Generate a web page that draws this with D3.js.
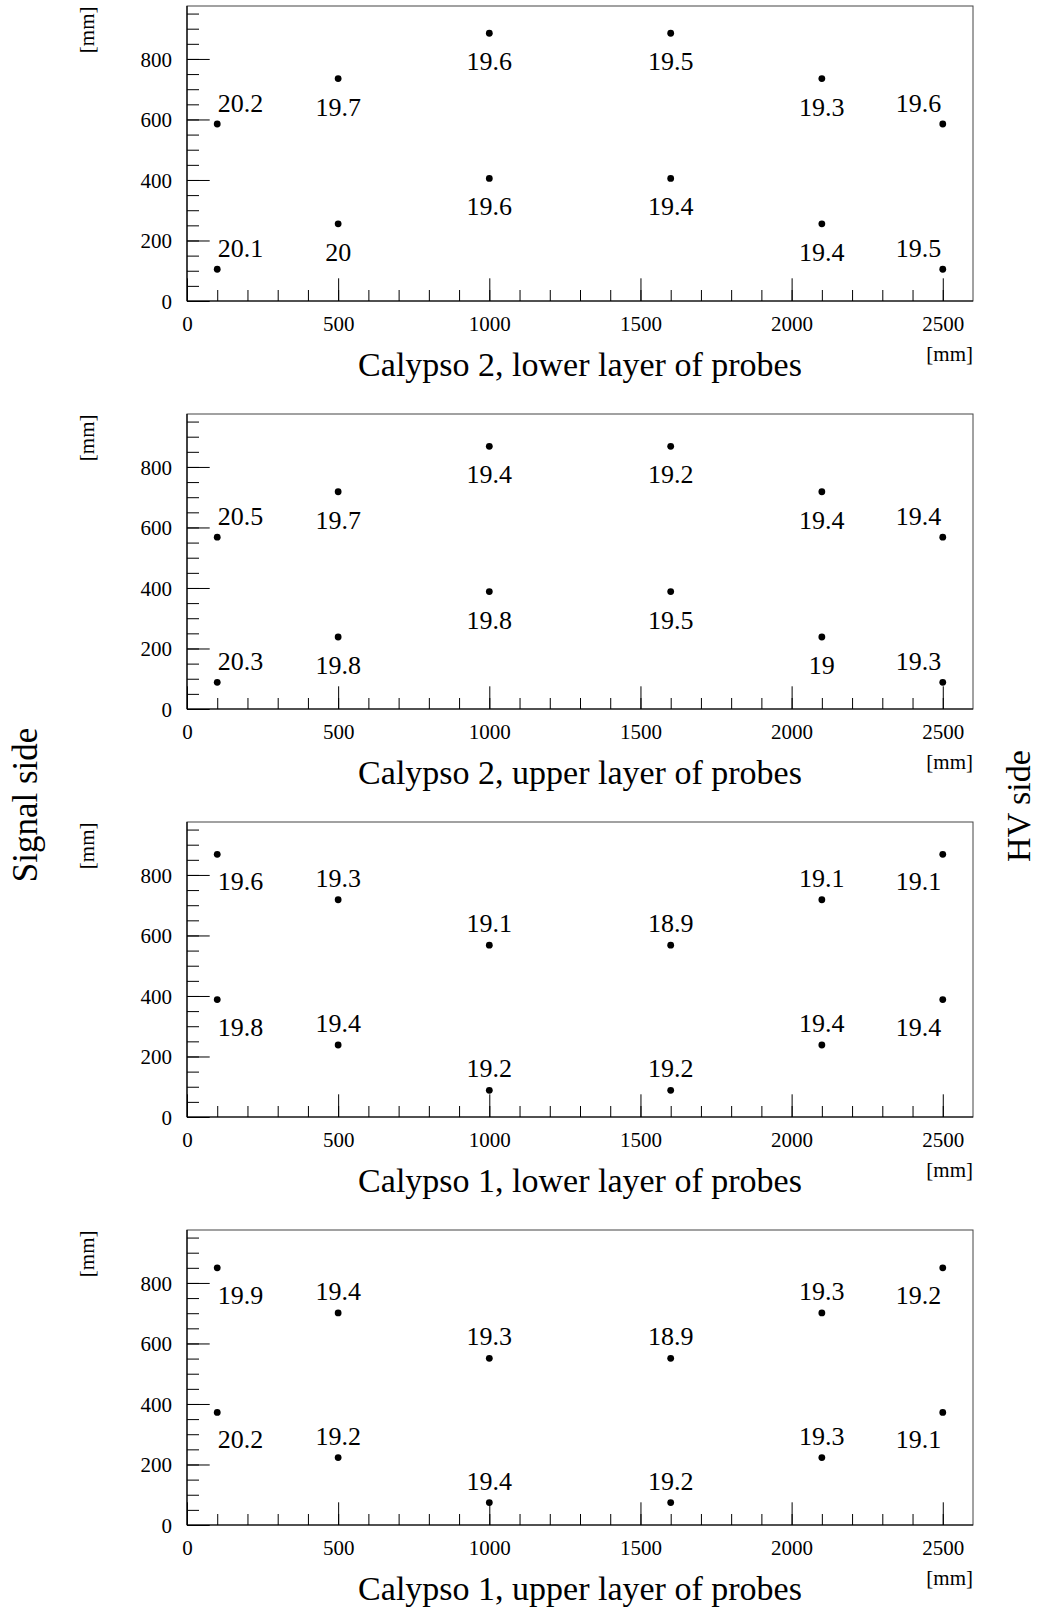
<!DOCTYPE html>
<html>
<head>
<meta charset="utf-8">
<script src="https://cdn.jsdelivr.net/npm/d3@7"></script>
<style>
  html, body { margin: 0; padding: 0; background: #fff; }
  svg { display: block; }
  text { font-family: "Liberation Serif", "Times New Roman", serif; fill: #000; }
</style>
</head>
<body>
<svg id="chart" width="1039" height="1611"></svg>
<script>
// ---------------- data ----------------
const panelTitles = [
  "Calypso 2, lower layer of probes",
  "Calypso 2, upper layer of probes",
  "Calypso 1, lower layer of probes",
  "Calypso 1, upper layer of probes"
];
// probe x positions [mm] (same in every panel)
const probeX = [100, 100, 500, 500, 1000, 1000, 1600, 1600, 2100, 2100, 2500, 2500];
// probe y positions [mm], one array per panel
const probeY1 = [105, 585, 255, 735, 405, 885, 405, 885, 255, 735, 105, 585];
const probeY2 = [88, 568, 238, 718, 388, 868, 388, 868, 238, 718, 88, 568];
const probeY3 = [388, 868, 238, 718, 88, 568, 88, 568, 238, 718, 388, 868];
const probeY4 = [372, 850, 223, 701, 74, 551, 74, 551, 223, 701, 372, 850];
// measured values shown next to each probe
const values1 = [20.1, 20.2, 20, 19.7, 19.6, 19.6, 19.4, 19.5, 19.4, 19.3, 19.5, 19.6];
const values2 = [20.3, 20.5, 19.8, 19.7, 19.8, 19.4, 19.5, 19.2, 19, 19.4, 19.3, 19.4];
const values3 = [19.8, 19.6, 19.4, 19.3, 19.2, 19.1, 19.2, 18.9, 19.4, 19.1, 19.4, 19.1];
const values4 = [20.2, 19.9, 19.2, 19.4, 19.4, 19.3, 19.2, 18.9, 19.3, 19.3, 19.1, 19.2];
const xTickLabels = [0, 500, 1000, 1500, 2000, 2500];
const yTickLabels = [0, 200, 400, 600, 800];
const xDomain = [0, 2600];
const yDomain = [0, 975];

const panelsY = [probeY1, probeY2, probeY3, probeY4];
const panelsV = [values1, values2, values3, values4];
// label placement per panel: labels below points (1,2) or above points (3,4)
const labelSide = ["below", "below", "above", "above"];

// ---------------- layout ----------------
const FONT = '"Liberation Serif", "Times New Roman", serif';
const svg = d3.select("#chart");
const left = 187, right = 973;
const frameH = 295, pitch = 408, top0 = 6;

const x = d3.scaleLinear().domain(xDomain).range([left, right]);
const fmt = d3.format("d");

panelTitles.forEach((title, i) => {
  const top = top0 + i * pitch;
  const bottom = top + frameH;
  const y = d3.scaleLinear().domain(yDomain).range([bottom, top]);
  const g = svg.append("g");

  // frame
  g.append("rect")
    .attr("x", left).attr("y", top)
    .attr("width", right - left).attr("height", frameH)
    .attr("fill", "none").attr("stroke", "#444").attr("stroke-width", 1);

  // y axis minor ticks
  const yMinor = g.append("g").attr("transform", `translate(${left},0)`)
    .call(d3.axisLeft(y).tickValues(d3.range(0, 951, 50)).tickSize(-12).tickSizeOuter(0).tickFormat(""));
  yMinor.select(".domain").remove();
  // y axis major ticks + labels
  const yMajor = g.append("g").attr("transform", `translate(${left},0)`)
    .call(d3.axisLeft(y).tickValues(yTickLabels).tickSize(-22.7).tickSizeOuter(0).tickPadding(15).tickFormat(fmt));
  yMajor.select(".domain").remove();
  yMajor.attr("font-family", FONT);
  yMajor.selectAll("text").attr("dy", "0.34em").attr("font-family", FONT)
    .style("font-family", FONT).style("font-size", "21px");

  // x axis minor ticks
  const xMinor = g.append("g").attr("transform", `translate(0,${bottom})`)
    .call(d3.axisBottom(x).tickValues(d3.range(0, 2600, 100)).tickSize(-11).tickSizeOuter(0).tickFormat(""));
  xMinor.select(".domain").remove();
  const xMajor = g.append("g").attr("transform", `translate(0,${bottom})`)
    .call(d3.axisBottom(x).tickValues(xTickLabels).tickSize(-22.7).tickSizeOuter(0).tickPadding(15).tickFormat(fmt));
  xMajor.select(".domain").remove();
  xMajor.attr("font-family", FONT);
  xMajor.selectAll("text").attr("dy", "0.71em").attr("y", 15).attr("font-family", FONT)
    .style("font-family", FONT).style("font-size", "21px");
  g.selectAll(".tick line").attr("stroke", "#000").attr("stroke-width", 1);

  // axis lines
  g.append("line").attr("x1", left).attr("x2", left).attr("y1", top).attr("y2", bottom)
    .attr("stroke", "#000").attr("stroke-width", 1.2);
  g.append("line").attr("x1", left).attr("x2", right).attr("y1", bottom).attr("y2", bottom)
    .attr("stroke", "#000").attr("stroke-width", 1.2);

  // axis unit labels
  g.append("text").attr("transform", `translate(94,${top + 0.5}) rotate(-90)`)
    .attr("text-anchor", "end").attr("font-family", FONT).style("font-size", "21px").text("[mm]");
  g.append("text").attr("x", right).attr("y", bottom + 60)
    .attr("text-anchor", "end").attr("font-family", FONT).style("font-size", "21px").text("[mm]");

  // title
  g.append("text").attr("x", (left + right) / 2).attr("y", bottom + 75)
    .attr("text-anchor", "middle").attr("font-family", FONT).style("font-size", "34px").text(title);

  // points
  const pts = probeX.map((px, k) => ({ px, py: panelsY[i][k], v: panelsV[i][k] }));
  g.selectAll("circle.pt").data(pts).join("circle").attr("class", "pt")
    .attr("cx", d => x(d.px)).attr("cy", d => y(d.py)).attr("r", 3.4).attr("fill", "#000");

  // value labels
  const side = labelSide[i];
  const xMin = d3.min(probeX), xMax = d3.max(probeX);
  g.selectAll("text.val").data(pts).join("text").attr("class", "val")
    .attr("font-family", FONT).style("font-family", FONT)
    .style("font-size", "26px")
    .attr("text-anchor", d => d.px === xMin ? "start" : d.px === xMax ? "end" : "middle")
    .attr("x", d => x(d.px) + (d.px === xMin ? 0.5 : d.px === xMax ? -1.5 : 0))
    .attr("y", d => {
      const cy = y(d.py);
      const edge = d.px === xMin || d.px === xMax;
      if (side === "below") return edge ? cy - 12 : cy + 37;
      return edge ? cy + 36 : cy - 13;
    })
    .text(d => String(d.v));
});

// side labels
svg.append("text").attr("transform", "translate(37,805) rotate(-90)")
  .attr("text-anchor", "middle").attr("font-family", FONT).style("font-size", "35px").text("Signal side");
svg.append("text").attr("transform", "translate(1030,806) rotate(-90)")
  .attr("text-anchor", "middle").attr("font-family", FONT).style("font-size", "34px").text("HV side");
</script>
</body>
</html>
